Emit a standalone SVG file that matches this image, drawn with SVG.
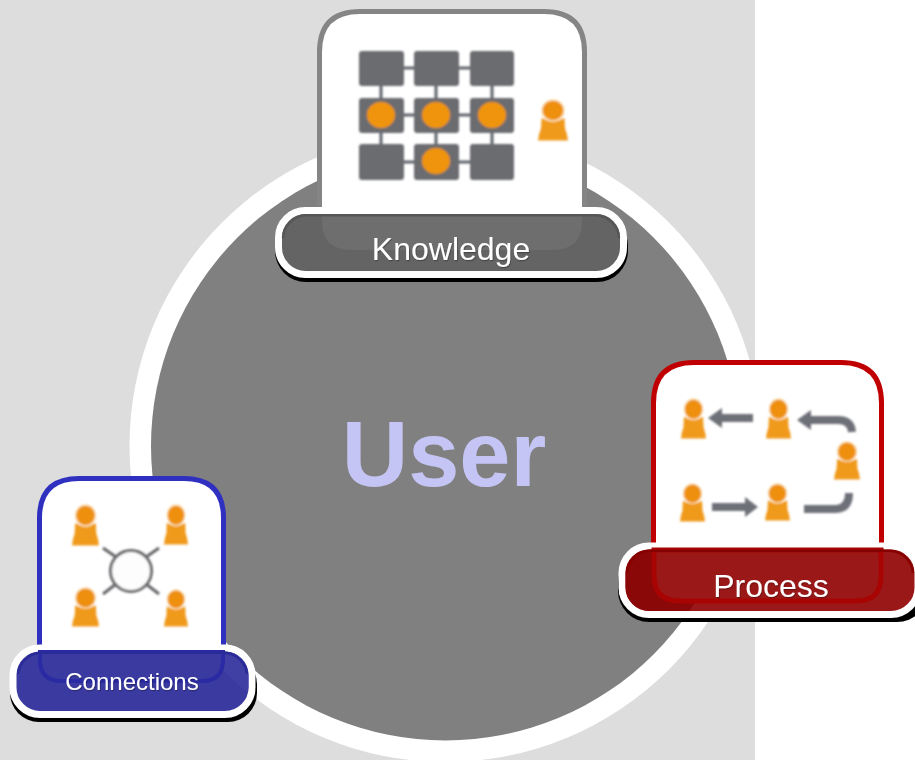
<svg xmlns="http://www.w3.org/2000/svg" width="915" height="760" viewBox="0 0 915 760">
<defs>
<symbol id="person" viewBox="0 0 30 44" overflow="visible" preserveAspectRatio="none">
<path d="M3.500 20Q15 27 26.500 20L27 31Q29.500 37 30 43.500H0Q.5 37 3 31Z" fill="#f09a1e"/>
<circle cx="15" cy="12" r="11" fill="#ee8f10" stroke="#fbdfb0" stroke-width="1.500"/>
</symbol>
<filter id="soft" x="-10%" y="-10%" width="120%" height="120%"><feGaussianBlur stdDeviation=".8"/></filter>
<filter id="ts" x="-5%" y="-10%" width="110%" height="125%"><feDropShadow dx=".8" dy="1.200" stdDeviation=".6" flood-color="#000" flood-opacity=".3"/></filter>
<clipPath id="core"><circle cx="445.500" cy="446" r="294.500"/></clipPath>
<clipPath id="rim"><circle cx="445.500" cy="446" r="316"/></clipPath>
</defs>
<style>
text{font-family:"Liberation Sans",Arial,sans-serif;fill:#fff}
.sq{fill:#6a6c70}
.ln{stroke:#5f646c;stroke-width:3;fill:none}
.dot{fill:#f09410;stroke:#d88a20;stroke-width:1}
.ar{stroke:#6e7078;stroke-width:8;fill:none}
.arh{fill:#6e7078}
.pill{stroke:#fff;stroke-width:7}
.band{fill:none;stroke-width:2.500}
</style>
<rect width="755" height="760" fill="#dddddd"/>
<g id="user">
<circle cx="445.500" cy="446" r="316" fill="#fff"/>
<circle cx="445.500" cy="446" r="294.500" fill="#808080"/>
<text x="444" y="486" font-size="92" font-weight="700" text-anchor="middle" style="fill:#c5c5f5">User</text>
</g>
<g id="knowledge">
<path d="M319.500 225V52Q319.500 11.500 360 11.500H544Q584.500 11.500 584.500 52V225Z" fill="#fff" stroke="#858585" stroke-width="5"/>
<g class="ln" filter="url(#soft)">
<path d="M381 68H492M381 115H492M381 162H492M381 68V162M436 68V162M492 68V162"/>
</g>
<g filter="url(#soft)">
<rect class="sq" x="359" y="51" width="45" height="35" rx="3"/><rect class="sq" x="414" y="51" width="45" height="35" rx="3"/><rect class="sq" x="470" y="51" width="44" height="35" rx="3"/>
<rect class="sq" x="359" y="98" width="45" height="35" rx="3"/><rect class="sq" x="414" y="98" width="45" height="35" rx="3"/><rect class="sq" x="470" y="98" width="44" height="35" rx="3"/>
<rect class="sq" x="359" y="144" width="45" height="36" rx="3"/><rect class="sq" x="414" y="144" width="45" height="36" rx="3"/><rect class="sq" x="470" y="144" width="44" height="36" rx="3"/>
<ellipse class="dot" cx="381" cy="115" rx="14" ry="13"/><ellipse class="dot" cx="436" cy="115" rx="14" ry="13"/><ellipse class="dot" cx="492" cy="115" rx="14" ry="13"/><ellipse class="dot" cx="436" cy="161" rx="14" ry="13"/>
</g>
<g filter="url(#soft)"><use href="#person" x="538" y="99" width="30" height="42"/></g>
<rect x="275" y="215" width="353" height="67" rx="31" fill="#000"/>
<rect class="pill" x="278.500" y="210.500" width="345" height="64" rx="27" fill="#646464"/>
<path d="M322 214H582V222Q582 250 552 250H352Q322 250 322 222Z" fill="#6e6e6e"/>
<path class="band" stroke="#565656" d="M283 238A24 24 0 0 1 306 215.200H596A24 24 0 0 1 619 238"/>
<text x="451" y="260" font-size="32" text-anchor="middle" filter="url(#ts)">Knowledge</text>
</g>
<g id="process">
<path d="M653.500 550V403Q653.500 362.500 694 362.500H841Q881.500 362.500 881.500 403V550Z" fill="#fff" stroke="#c00000" stroke-width="5"/>
<g filter="url(#soft)">
<use href="#person" x="681" y="398" width="25" height="41"/>
<use href="#person" x="766" y="398" width="25" height="41"/>
<use href="#person" x="834" y="441" width="26" height="39"/>
<use href="#person" x="680" y="483" width="25" height="39"/>
<use href="#person" x="765" y="483" width="25" height="38"/>
<path class="ar" d="M753 418H720"/><path class="arh" d="M708 418L722 408V428Z"/>
<path class="ar" d="M852 432Q851 420 838 420H808"/><path class="arh" d="M797 420L811 410V430Z"/>
<path class="ar" d="M712 507H747"/><path class="arh" d="M758 507L745 497V517Z"/>
<path class="ar" d="M804 509H835Q849 509 849 493"/>
</g>
<rect x="618" y="552" width="310" height="70" rx="31" fill="#000"/>
<rect class="pill" x="622" y="546" width="296" height="68.500" rx="27" fill="#9a1818"/>
<rect x="625.500" y="549.500" width="289" height="61.500" rx="24" fill="#8a0808" clip-path="url(#core)"/>
<path d="M654 550V576Q654 601 680 601H856Q881 601 881 576V550Z" fill="#9a1818" stroke="#a80404" stroke-width="5"/>
<path class="band" stroke="#870000" d="M627 573A24 24 0 0 1 650 550.700H890A24 24 0 0 1 913 573"/>
<text x="771" y="597" font-size="32" text-anchor="middle" filter="url(#ts)">Process</text>
</g>
<g id="connections">
<path d="M39.500 655V518Q39.500 478.500 79 478.500H184Q223.500 478.500 223.500 518V655Z" fill="#fff" stroke="#3030c0" stroke-width="5"/>
<g filter="url(#soft)">
<use href="#person" x="72" y="504" width="27" height="42"/>
<use href="#person" x="164" y="504" width="24" height="41"/>
<use href="#person" x="72" y="587" width="27" height="40"/>
<use href="#person" x="164" y="589" width="24" height="38"/>
<g stroke="#66666a" stroke-width="3" fill="none">
<circle cx="131" cy="571" r="20.500" fill="#fdfdfd"/>
<path d="M103 548L116 557M159 548L146 557M103 594L116 584M159 594L146 584"/>
</g>
</g>
<rect x="10" y="655" width="247" height="67" rx="29" fill="#000"/>
<rect class="pill" x="13" y="648" width="239" height="66.500" rx="27" fill="#3a3aa0"/>
<rect x="16.500" y="651.500" width="232" height="59.500" rx="24" fill="#4040a4" clip-path="url(#rim)"/>
<path d="M40 652V660Q40 681 62 681H202Q223 681 223 660V652Z" fill="#3a3aa0" stroke="#2a2aa4" stroke-width="4"/>
<path class="band" stroke="#2a2a98" d="M18 674A24 24 0 0 1 41 652.700H224A24 24 0 0 1 247 674"/>
<text x="132" y="690" font-size="24" text-anchor="middle" filter="url(#ts)">Connections</text>
</g>
</svg>
